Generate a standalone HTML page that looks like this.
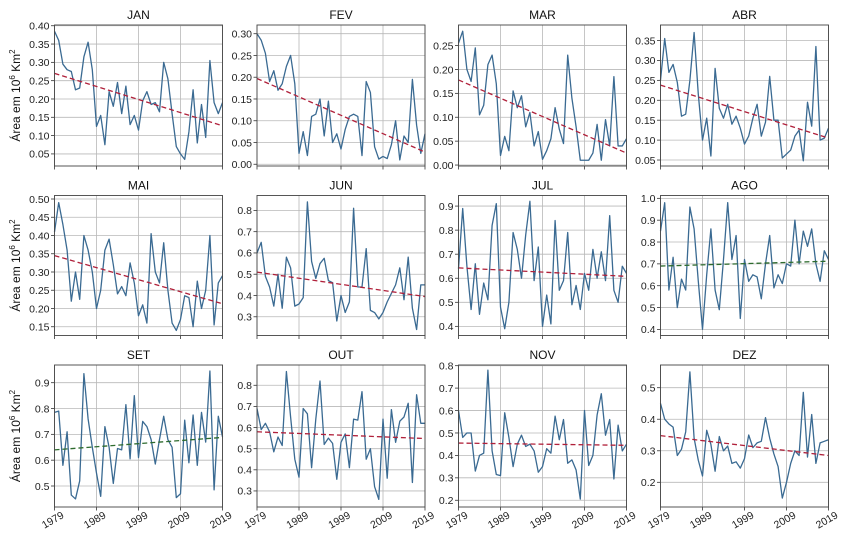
<!DOCTYPE html>
<html><head><meta charset="utf-8"><style>
body{margin:0;background:#fff;}
svg{display:block;font-family:"Liberation Sans","DejaVu Sans",sans-serif;}
</style></head><body>
<svg id="chart" width="850" height="554" viewBox="0 0 850 554"></svg>
<script>
const years = [];
for (let y = 1979; y <= 2019; y++) years.push(y);
const months = ["JAN","FEV","MAR","ABR","MAI","JUN","JUL","AGO","SET","OUT","NOV","DEZ"];
const xTicks = [1979, 1989, 1999, 2009, 2019];
const janValues = [0.385,0.36,0.295,0.28,0.275,0.225,0.23,0.315,0.355,0.28,0.125,0.155,0.075,0.22,0.18,0.245,0.16,0.235,0.13,0.155,0.115,0.195,0.22,0.185,0.19,0.165,0.30,0.255,0.16,0.07,0.05,0.035,0.11,0.225,0.08,0.185,0.095,0.305,0.19,0.16,0.19];
const fevValues = [0.30,0.285,0.255,0.19,0.215,0.17,0.185,0.225,0.25,0.185,0.025,0.075,0.02,0.11,0.115,0.15,0.065,0.145,0.05,0.07,0.035,0.08,0.11,0.115,0.11,0.02,0.19,0.165,0.04,0.012,0.018,0.013,0.045,0.10,0.01,0.065,0.05,0.195,0.09,0.025,0.07];
const marValues = [0.255,0.28,0.20,0.175,0.245,0.105,0.125,0.21,0.23,0.17,0.02,0.06,0.03,0.155,0.12,0.145,0.08,0.11,0.04,0.07,0.012,0.03,0.055,0.12,0.075,0.045,0.23,0.14,0.08,0.01,0.01,0.01,0.025,0.085,0.01,0.095,0.04,0.185,0.04,0.04,0.055];
const abrValues = [0.25,0.355,0.27,0.29,0.245,0.16,0.165,0.25,0.37,0.215,0.10,0.155,0.06,0.28,0.18,0.155,0.19,0.14,0.16,0.13,0.09,0.11,0.155,0.19,0.11,0.145,0.26,0.15,0.15,0.055,0.065,0.075,0.11,0.125,0.048,0.195,0.135,0.335,0.10,0.105,0.13];
const maiValues = [0.41,0.49,0.43,0.36,0.22,0.30,0.225,0.40,0.36,0.30,0.20,0.25,0.36,0.39,0.32,0.24,0.26,0.235,0.325,0.27,0.18,0.21,0.16,0.405,0.30,0.27,0.38,0.25,0.16,0.14,0.17,0.235,0.23,0.15,0.275,0.20,0.25,0.40,0.155,0.27,0.29];
const junValues = [0.60,0.65,0.49,0.44,0.35,0.50,0.34,0.58,0.53,0.35,0.36,0.39,0.84,0.56,0.48,0.55,0.575,0.47,0.46,0.28,0.40,0.32,0.37,0.81,0.44,0.44,0.62,0.33,0.32,0.29,0.32,0.37,0.41,0.45,0.53,0.38,0.58,0.34,0.24,0.45,0.45];
const julValues = [0.64,0.89,0.65,0.47,0.66,0.45,0.58,0.51,0.82,0.91,0.48,0.39,0.50,0.79,0.72,0.60,0.78,0.92,0.59,0.73,0.40,0.53,0.41,0.84,0.55,0.59,0.79,0.49,0.57,0.47,0.62,0.55,0.72,0.60,0.71,0.59,0.86,0.55,0.50,0.65,0.62];
const agoValues = [0.85,0.98,0.58,0.73,0.50,0.63,0.58,0.96,0.86,0.62,0.40,0.65,0.86,0.58,0.49,0.72,0.98,0.72,0.83,0.45,0.72,0.62,0.65,0.64,0.54,0.70,0.83,0.59,0.65,0.61,0.70,0.69,0.90,0.70,0.85,0.78,0.86,0.70,0.62,0.76,0.72];
const setValues = [0.785,0.79,0.58,0.71,0.465,0.45,0.52,0.935,0.76,0.65,0.55,0.46,0.73,0.65,0.51,0.645,0.64,0.815,0.605,0.85,0.61,0.75,0.73,0.68,0.585,0.68,0.77,0.68,0.65,0.455,0.47,0.755,0.59,0.775,0.58,0.785,0.67,0.945,0.485,0.77,0.69];
const outValues = [0.69,0.59,0.62,0.58,0.485,0.555,0.515,0.865,0.65,0.45,0.365,0.69,0.665,0.41,0.64,0.82,0.52,0.55,0.525,0.355,0.53,0.57,0.41,0.64,0.635,0.77,0.45,0.50,0.32,0.26,0.64,0.36,0.685,0.53,0.63,0.65,0.715,0.34,0.755,0.62,0.62];
const novValues = [0.60,0.48,0.50,0.50,0.33,0.40,0.41,0.78,0.42,0.315,0.31,0.59,0.48,0.35,0.45,0.49,0.44,0.45,0.42,0.325,0.35,0.43,0.41,0.575,0.47,0.56,0.365,0.38,0.335,0.205,0.60,0.355,0.40,0.58,0.675,0.49,0.56,0.295,0.535,0.42,0.45];
const dezValues = [0.45,0.40,0.385,0.375,0.285,0.305,0.36,0.55,0.34,0.27,0.22,0.365,0.32,0.235,0.345,0.30,0.315,0.26,0.265,0.245,0.275,0.35,0.31,0.325,0.33,0.405,0.34,0.29,0.25,0.15,0.20,0.26,0.30,0.285,0.485,0.28,0.415,0.26,0.325,0.33,0.335];
const trendStart = [0.27,0.197,0.178,0.238,0.345,0.51,0.643,0.69,0.64,0.58,0.455,0.348];
const trendEnd = [0.127,0.028,0.025,0.105,0.213,0.395,0.608,0.712,0.688,0.548,0.445,0.285];
const janTicks=[0.05,0.10,0.15,0.20,0.25,0.30,0.35,0.40];
const fevTicks=[0.00,0.05,0.10,0.15,0.20,0.25,0.30];
const marTicks=[0.00,0.05,0.10,0.15,0.20,0.25];
const abrTicks=[0.05,0.10,0.15,0.20,0.25,0.30,0.35];
const maiTicks=[0.15,0.20,0.25,0.30,0.35,0.40,0.45,0.50];
const junTicks=[0.3,0.4,0.5,0.6,0.7,0.8];
const julTicks=[0.4,0.5,0.6,0.7,0.8,0.9];
const agoTicks=[0.4,0.5,0.6,0.7,0.8,0.9,1.0];
const setTicks=[0.5,0.6,0.7,0.8,0.9];
const outTicks=[0.3,0.4,0.5,0.6,0.7,0.8];
const novTicks=[0.2,0.3,0.4,0.5,0.6,0.7,0.8];
const dezTicks=[0.2,0.3,0.4,0.5];

const series=[janValues,fevValues,marValues,abrValues,maiValues,junValues,julValues,agoValues,setValues,outValues,novValues,dezValues];
const ticks=[janTicks,fevTicks,marTicks,abrTicks,maiTicks,junTicks,julTicks,agoTicks,setTicks,outTicks,novTicks,dezTicks];
const ylims=[[0.017,0.402],[-0.004,0.32],[-0.002,0.293],[0.035,0.389],[0.126,0.5096],[0.212,0.87],[0.362,0.944],[0.372,1.013],[0.4187,0.9685],[0.224,0.896],[0.170,0.803],[0.1217,0.572]];
const decs=[2,2,2,2,2,1,1,1,1,1,1,1];
const colL=[54.5,257,458.5,660.5], W=168;
const rowT=[25,195.5,365], rowB=[166,335.5,507];
const NS="http://www.w3.org/2000/svg";
const svg=document.getElementById('chart');
function mk(tag,attrs,parent){const e=document.createElementNS(NS,tag);for(const k in attrs)e.setAttribute(k,attrs[k]);(parent||svg).appendChild(e);return e;}

for(let m=0;m<12;m++){
  const c=m%4,r=Math.floor(m/4);
  const L=colL[c],R=L+W,T=rowT[r],B=rowB[r];
  const [y0,y1]=ylims[m];
  const xs=v=>L+(v-1979)/40*W;
  const ys=v=>B-(v-y0)/(y1-y0)*(B-T);
  const g=mk('g',{});
  
  
  // grid
  xTicks.forEach(t=>{
    const gl=mk('line',{x1:xs(t),x2:xs(t),y1:T,y2:B,stroke:'#b8b8b8','stroke-width':0.8},g);
    
    
    mk('line',{x1:xs(t),x2:xs(t),y1:B,y2:B+3.5,stroke:'#333','stroke-width':0.8},g);
    if(r===2){
      const tx=mk('text',{x:0,y:0,'font-size':10.5,fill:'#222','text-anchor':'middle',transform:`translate(${xs(t)},${B+16}) rotate(-30)`},g);
      tx.textContent=t;
      
      
    }
  });
  ticks[m].forEach(t=>{
    const yy=ys(t);
    const gl=mk('line',{x1:L,x2:R,y1:yy,y2:yy,stroke:'#b8b8b8','stroke-width':0.8},g);
    
    
    mk('line',{x1:L-3.5,x2:L,y1:yy,y2:yy,stroke:'#333','stroke-width':0.8},g);
    const tx=mk('text',{x:L-5,y:yy+3.8,'font-size':10.5,fill:'#222','text-anchor':'end'},g);
    tx.textContent=t.toFixed(decs[m]);
    
    
  });
  // series
  const pts=series[m].map((v,i)=>xs(years[i]).toFixed(2)+','+ys(v).toFixed(2)).join(' ');
  const pl=mk('polyline',{points:pts,fill:'none',stroke:'#3a6a92','stroke-width':1.3,'stroke-linejoin':'round'},g);
  
  
  const up=trendEnd[m]>trendStart[m];
  const tl=mk('line',{x1:xs(1979),y1:ys(trendStart[m]),x2:xs(2019),y2:ys(trendEnd[m]),stroke:up?'#2e6b2e':'#b0203a','stroke-width':1.3,'stroke-dasharray':'5,3'},g);
  
  
  const fr=mk('rect',{x:L,y:T,width:W,height:B-T,fill:'none',stroke:'#444','stroke-width':0.9},g);
  
  
  const ti=mk('text',{x:L+W/2,y:T-6,'font-size':12,fill:'#111','text-anchor':'middle'},g);
  ti.textContent=months[m];
  
  
  if(c===0){
    const cy=(T+B)/2;
    const yl=mk('text',{x:0,y:0,'font-size':12,fill:'#111','text-anchor':'middle',transform:`translate(20,${cy}) rotate(-90)`},g);
    yl.innerHTML='Área em 10<tspan dy="-5" font-size="8">6</tspan><tspan dy="5"> Km</tspan><tspan dy="-5" font-size="8">2</tspan>';
    
    
  }
}
</script>
</body></html>
